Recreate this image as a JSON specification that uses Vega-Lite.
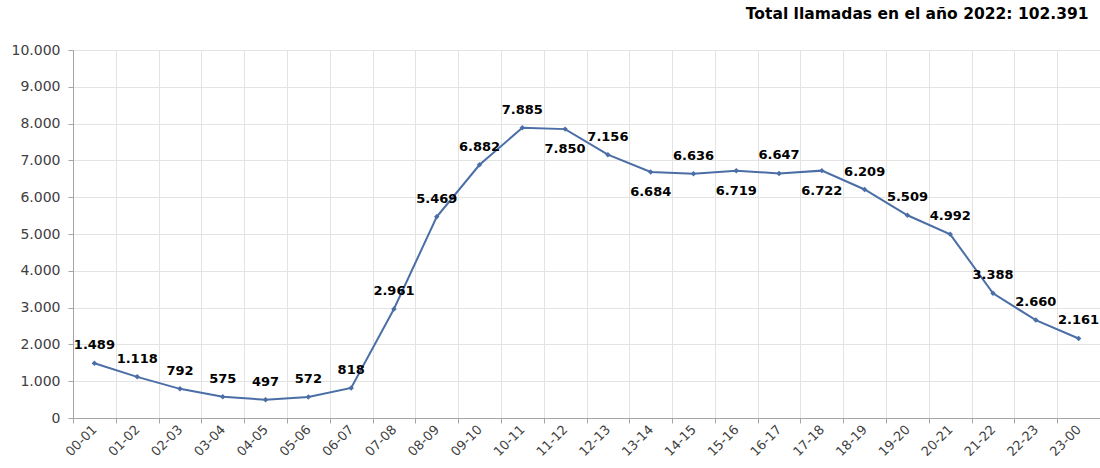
{
  "$schema": "https://vega.github.io/schema/vega-lite/v6.json",
  "width": 1027,
  "height": 368,
  "autosize": {"type": "none"},
  "padding": {"left": 73, "top": 50, "right": 0, "bottom": 50},
  "title": {
    "text": "Total llamadas en el año 2022: 102.391",
    "anchor": "end",
    "font": "DejaVu Sans",
    "fontSize": 15.5,
    "fontWeight": "bold",
    "color": "#000000",
    "offset": 21,
    "dx": -12
  },
  "config": {
    "view": {"stroke": null},
    "locale": {"number": {"decimal": ",", "thousands": ".", "grouping": [3], "currency": ["", " €"]}}
  },
  "data": {
    "values": [
      {"franja": "00-01", "llamadas": 1489},
      {"franja": "01-02", "llamadas": 1118},
      {"franja": "02-03", "llamadas": 792},
      {"franja": "03-04", "llamadas": 575},
      {"franja": "04-05", "llamadas": 497},
      {"franja": "05-06", "llamadas": 572},
      {"franja": "06-07", "llamadas": 818},
      {"franja": "07-08", "llamadas": 2961},
      {"franja": "08-09", "llamadas": 5469},
      {"franja": "09-10", "llamadas": 6882},
      {"franja": "10-11", "llamadas": 7885},
      {"franja": "11-12", "llamadas": 7850},
      {"franja": "12-13", "llamadas": 7156},
      {"franja": "13-14", "llamadas": 6684},
      {"franja": "14-15", "llamadas": 6636},
      {"franja": "15-16", "llamadas": 6719},
      {"franja": "16-17", "llamadas": 6647},
      {"franja": "17-18", "llamadas": 6722},
      {"franja": "18-19", "llamadas": 6209},
      {"franja": "19-20", "llamadas": 5509},
      {"franja": "20-21", "llamadas": 4992},
      {"franja": "21-22", "llamadas": 3388},
      {"franja": "22-23", "llamadas": 2660},
      {"franja": "23-00", "llamadas": 2161}
    ]
  },
  "encoding": {
    "x": {
      "field": "franja",
      "type": "ordinal",
      "sort": null,
      "title": null,
      "scale": {"type": "band", "paddingInner": 0, "paddingOuter": 0},
      "axis": {
        "tickBand": "extent",
        "labelAngle": -45,
        "labelAlign": "right",
        "labelBaseline": "middle",
        "labelFont": "DejaVu Sans",
        "labelFontSize": 13,
        "labelColor": "#404040",
        "labelPadding": 4,
        "domainColor": "#a6a6a6",
        "tickColor": "#a6a6a6",
        "tickSize": 5,
        "gridColor": "#e3e3e3",
        "grid": true
      }
    },
    "y": {
      "field": "llamadas",
      "type": "quantitative",
      "title": null,
      "scale": {"domain": [0, 10000], "nice": false},
      "axis": {
        "values": [0, 1000, 2000, 3000, 4000, 5000, 6000, 7000, 8000, 9000, 10000],
        "format": ",d",
        "labelFont": "DejaVu Sans",
        "labelFontSize": 14,
        "labelColor": "#404040",
        "labelPadding": 8,
        "domainColor": "#a6a6a6",
        "tickColor": "#a6a6a6",
        "tickSize": 5,
        "gridColor": "#e3e3e3"
      }
    }
  },
  "layer": [
    {
      "mark": {
        "type": "line",
        "color": "#4a6ea5",
        "strokeWidth": 2,
        "point": {"shape": "diamond", "size": 30, "filled": true, "color": "#4a6ea5"}
      }
    },
    {
      "transform": [{"filter": {"not": {"field": "franja", "oneOf": ["11-12", "13-14", "15-16", "17-18"]}}}],
      "mark": {"type": "text", "font": "DejaVu Sans", "fontSize": 13, "fontWeight": "bold", "color": "#000000", "dy": -18, "baseline": "middle"},
      "encoding": {"text": {"field": "llamadas", "type": "quantitative", "format": ",d"}}
    },
    {
      "transform": [{"filter": {"field": "franja", "oneOf": ["11-12", "13-14", "15-16", "17-18"]}}],
      "mark": {"type": "text", "font": "DejaVu Sans", "fontSize": 13, "fontWeight": "bold", "color": "#000000", "dy": 20, "baseline": "middle"},
      "encoding": {"text": {"field": "llamadas", "type": "quantitative", "format": ",d"}}
    }
  ]
}
